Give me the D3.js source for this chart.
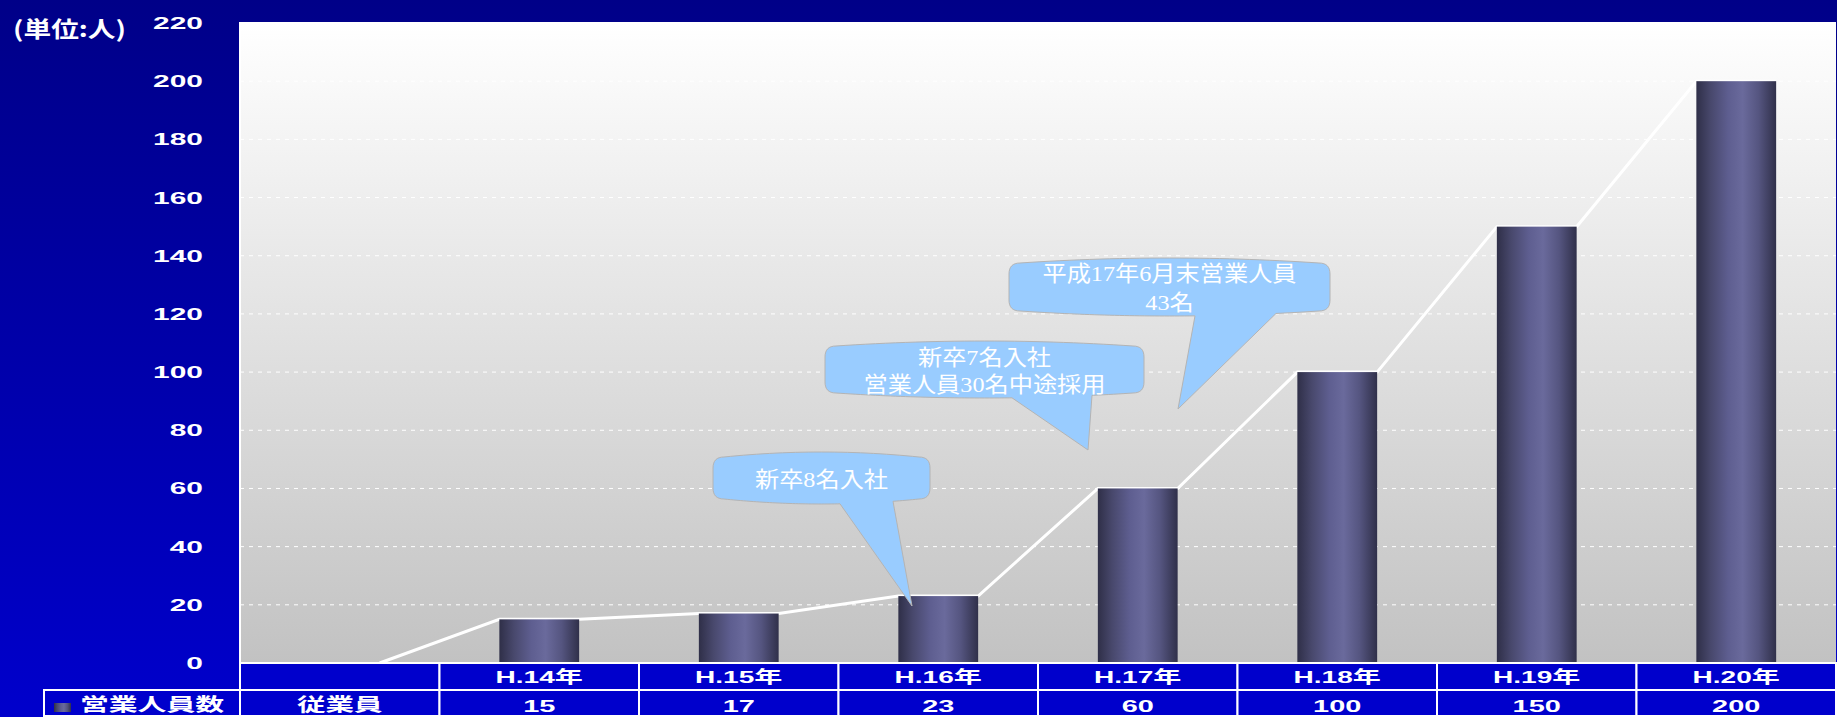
<!DOCTYPE html>
<html>
<head>
<meta charset="utf-8" />
<script src="https://d3js.org/d3.v7.min.js"></script>
<style>
    body { margin: 0; background: #0000a0; }
    text { fill: #fff; }
    .lbl { font-family: "Liberation Sans", "Noto Sans CJK JP", sans-serif; font-weight: bold; font-size: 17px; }
    .cjk { font-family: "Liberation Sans", "Noto Sans CJK JP", sans-serif; font-weight: bold; font-size: 18px; }
    .unit { font-family: "Noto Sans CJK JP", sans-serif; font-weight: bold; font-size: 22px; }
    .note { font-family: "Liberation Serif", "Noto Sans CJK JP", serif; font-size: 22px; }
</style>
</head>
<body>
<svg id="chart" width="1837" height="717"></svg>
<script>
var categories = ["H.14年", "H.15年", "H.16年", "H.17年", "H.18年", "H.19年", "H.20年"];
var staff = [15, 17, 23, 60, 100, 150, 200];
var yTicks = [0, 20, 40, 60, 80, 100, 120, 140, 160, 180, 200, 220];
var seriesName = "営業人員数";
var rowHeader = "従業員";
var unitLabel = "(単位:人)";
var noteTexts = [
    ["新卒8名入社"],
    ["新卒7名入社", "営業人員30名中途採用"],
    ["平成17年6月末営業人員", "43名"]
];

// callout layout (pixels): box, pointer base, pointer tip, text baselines
var noteLayout = [
    {x0: 713, x1: 930, y0: 452, y1: 504, b0: 840, b1: 893, tx: 912, ty: 606, base: [487]},
    {x0: 825, x1: 1144, y0: 341, y1: 398, b0: 1012, b1: 1092, tx: 1088, ty: 450, base: [365, 392]},
    {x0: 1009, x1: 1330, y0: 258, y1: 316, b0: 1195, b1: 1276, tx: 1178, ty: 409, base: [281, 310]}
];

var W = 1837, H = 717;
var plotL = 240, plotR = 1836, plotT = 23, plotB = 663;
var row1B = 690, row2B = 716, tableL = 44;

var svg = d3.select("#chart");
var defs = svg.append("defs");

var bg = defs.append("linearGradient").attr("id", "bg").attr("x1", 0).attr("y1", 0).attr("x2", 0).attr("y2", 1);
bg.append("stop").attr("offset", "0%").attr("stop-color", "#000088");
bg.append("stop").attr("offset", "100%").attr("stop-color", "#0000cc");

var pg = defs.append("linearGradient").attr("id", "plotbg").attr("x1", 0).attr("y1", 0).attr("x2", 0).attr("y2", 1);
pg.append("stop").attr("offset", "0%").attr("stop-color", "#ffffff");
pg.append("stop").attr("offset", "100%").attr("stop-color", "#c2c2c2");

var barg = defs.append("linearGradient").attr("id", "barg").attr("x1", 0).attr("y1", 0).attr("x2", 1).attr("y2", 0);
[["0%", "#2f2f48"], ["18%", "#48486c"], ["40%", "#5e5e90"], ["58%", "#6a6a9c"], ["78%", "#555580"], ["100%", "#30304a"]]
    .forEach(function(s) { barg.append("stop").attr("offset", s[0]).attr("stop-color", s[1]); });

svg.append("rect").attr("width", W).attr("height", H).attr("fill", "url(#bg)");

var x = d3.scaleBand().domain([""].concat(categories)).range([plotL, plotR]);
var y = d3.scaleLinear().domain([0, 220]).range([plotB, plotT]);
var bw = x.bandwidth() * 0.4;

function stretch(t, k, anchor, px) {
    var L = t.node().getComputedTextLength();
    var w = L * k;
    var x0 = anchor === "middle" ? px - w / 2 : anchor === "end" ? px - w : px;
    t.attr("x", x0).attr("textLength", w).attr("lengthAdjust", "spacingAndGlyphs");
}

// plot area
svg.append("rect").attr("x", plotL).attr("y", plotT - 1).attr("width", plotR - plotL).attr("height", plotB - plotT + 1)
    .attr("fill", "url(#plotbg)");

svg.append("g").selectAll("line").data(yTicks.filter(function(d) { return d > 0; }))
    .enter().append("line")
    .attr("x1", plotL).attr("x2", plotR)
    .attr("y1", function(d) { return y(d); }).attr("y2", function(d) { return y(d); })
    .attr("stroke", "#fff").attr("stroke-width", 1).attr("stroke-dasharray", "4,5");

svg.append("line").attr("x1", plotL).attr("x2", plotL).attr("y1", plotT - 1).attr("y2", row2B)
    .attr("stroke", "#fff").attr("stroke-width", 2);

// y labels
svg.append("g").selectAll("text").data(yTicks).enter().append("text")
    .attr("class", "lbl")
    .attr("y", function(d) { return y(d) + 6; })
    .text(function(d) { return d; })
    .each(function() { stretch(d3.select(this), 1.76, "end", 203); });

var unit = svg.append("text").attr("class", "unit").attr("y", 37).text(unitLabel);
stretch(unit, 113 / unit.node().getComputedTextLength(), "start", 13);

// trend line through bar top corners
var pts = [[x("") + x.bandwidth() / 2 + bw / 2, y(0)]];
categories.forEach(function(c, i) {
    var cx = x(c) + x.bandwidth() / 2;
    pts.push([cx - bw / 2, y(staff[i])], [cx + bw / 2, y(staff[i])]);
});
svg.append("path").attr("d", d3.line()(pts)).attr("fill", "none").attr("stroke", "#fff").attr("stroke-width", 3);

// bars
svg.append("g").selectAll("rect").data(staff).enter().append("rect")
    .attr("x", function(d, i) { return x(categories[i]) + x.bandwidth() / 2 - bw / 2; })
    .attr("y", function(d) { return y(d); })
    .attr("width", bw)
    .attr("height", function(d) { return plotB - y(d); })
    .attr("fill", "url(#barg)");

// callouts
function quad(p0, p1, p2, n) {
    var out = [];
    for (var i = 0; i <= n; i++) {
        var t = i / n, a = (1 - t) * (1 - t), b = 2 * t * (1 - t), c = t * t;
        out.push([a * p0[0] + b * p1[0] + c * p2[0], a * p0[1] + b * p1[1] + c * p2[1]]);
    }
    return out;
}
function bubble(L) {
    var r = 11, d = 5, xm = (L.x0 + L.x1) / 2;
    var p = [];
    p = p.concat(quad([L.x0, L.y0 + d + r], [L.x0, L.y0 + d], [L.x0 + r, L.y0 + d], 8));
    p = p.concat(quad([L.x0 + r, L.y0 + d], [xm, L.y0 - d], [L.x1 - r, L.y0 + d], 30));
    p = p.concat(quad([L.x1 - r, L.y0 + d], [L.x1, L.y0 + d], [L.x1, L.y0 + d + r], 8));
    p = p.concat(quad([L.x1, L.y1 - d - r], [L.x1, L.y1 - d], [L.x1 - r, L.y1 - d], 8));
    var bottom = quad([L.x1 - r, L.y1 - d], [xm, L.y1 + d], [L.x0 + r, L.y1 - d], 60);
    function yb(px) {
        var t = (L.x1 - r - px) / (L.x1 - L.x0 - 2 * r);
        return L.y1 - d + 4 * d * t * (1 - t);
    }
    var done = false;
    bottom.forEach(function(q) {
        if (q[0] > L.b1 || q[0] < L.b0) { p.push(q); }
        else if (!done) {
            p.push([L.b1, yb(L.b1)], [L.tx, L.ty], [L.b0, yb(L.b0)]);
            done = true;
        }
    });
    p = p.concat(quad([L.x0 + r, L.y1 - d], [L.x0, L.y1 - d], [L.x0, L.y1 - d - r], 8));
    return d3.line()(p) + "Z";
}

noteTexts.forEach(function(lines, i) {
    var L = noteLayout[i];
    var g = svg.append("g");
    g.append("path").attr("d", bubble(L)).attr("fill", "#99ccff").attr("stroke", "#b4b4b4").attr("stroke-width", 1);
    lines.forEach(function(s, j) {
        var t = g.append("text").attr("class", "note").attr("y", L.base[j]).text(s);
        stretch(t, 1.1, "middle", (L.x0 + L.x1) / 2);
    });
});

// data table
var cells = svg.append("g");
var bandsAll = [""].concat(categories);
bandsAll.forEach(function(c) {
    cells.append("rect").attr("x", x(c)).attr("y", plotB).attr("width", x.bandwidth()).attr("height", row1B - plotB)
        .attr("fill", "#0000cc").attr("stroke", "#fff").attr("stroke-width", 2);
    cells.append("rect").attr("x", x(c)).attr("y", row1B).attr("width", x.bandwidth()).attr("height", row2B - row1B)
        .attr("fill", "#0000cc").attr("stroke", "#fff").attr("stroke-width", 2);
});
cells.append("rect").attr("x", tableL).attr("y", row1B).attr("width", plotL - tableL).attr("height", row2B - row1B)
    .attr("fill", "#0000cc").attr("stroke", "#fff").attr("stroke-width", 2);

categories.forEach(function(c, i) {
    var cx = x(c) + x.bandwidth() / 2;
    var t1 = svg.append("text").attr("class", "lbl").attr("y", 683).text(c);
    stretch(t1, 1.65, "middle", cx);
    var t2 = svg.append("text").attr("class", "lbl").attr("y", 712).text(staff[i]);
    stretch(t2, 1.7, "middle", cx);
});

var rh = svg.append("text").attr("class", "cjk").attr("y", 711).text(rowHeader);
stretch(rh, 1.58, "middle", x("") + x.bandwidth() / 2);

svg.append("rect").attr("x", 54).attr("y", 703).attr("width", 17).attr("height", 9).attr("fill", "url(#barg)");
var sn = svg.append("text").attr("class", "cjk").attr("y", 711).text(seriesName);
stretch(sn, 1.6, "start", 80);
</script>
</body>
</html>
